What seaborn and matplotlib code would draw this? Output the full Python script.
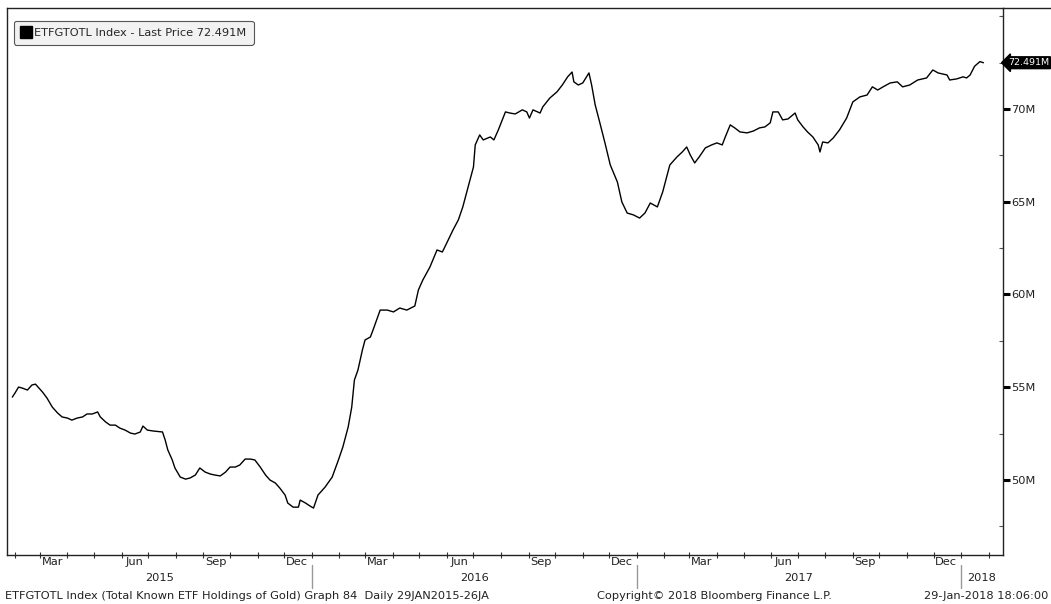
import pandas as pd
import matplotlib
matplotlib.use('Agg')
import matplotlib.pyplot as plt
import matplotlib.dates as mdates
from matplotlib.lines import Line2D
from matplotlib.ticker import FixedLocator, MultipleLocator, NullFormatter
from matplotlib.transforms import blended_transform_factory
import seaborn as sns

# days after 29-Jan-2015 and holdings in millions of oz
start = '2015-01-29'
days_since_start = [
    0, 3, 7, 11, 17, 22, 26, 29, 34, 39, 45, 51, 56, 62, 67, 73, 79, 84, 90, 96,
    99, 105, 110, 116, 121, 127, 133, 138, 144, 147, 152, 159, 169, 172, 175, 180,
    183, 189, 195, 200, 206, 211, 217, 223, 228, 234, 240, 245, 251, 256, 262, 268,
    273, 279, 285, 290, 296, 301, 307, 310, 316, 322, 324, 330, 335, 339, 344, 352,
    360, 367, 372, 378, 382, 385, 389, 394, 397, 403, 406, 414, 422, 429, 436, 444,
    453, 457, 462, 470, 478, 484, 489, 496, 502, 507, 513, 519, 521, 526, 530, 538,
    542, 547, 555, 560, 566, 574, 579, 582, 586, 594, 597, 605, 613, 619, 625, 630,
    632, 637, 642, 649, 652, 656, 661, 667, 673, 681, 686, 692, 699, 706, 712, 718,
    726, 732, 740, 748, 754, 759, 763, 768, 773, 780, 787, 793, 799, 802, 808, 813,
    819, 827, 834, 841, 847, 853, 856, 862, 867, 873, 881, 884, 890, 895, 901, 907,
    909, 912, 918, 924, 931, 939, 946, 954, 962, 968, 974, 980, 988, 996, 1002, 1010,
    1019, 1029, 1036, 1042, 1052, 1055, 1063, 1070, 1074, 1078, 1083, 1089, 1093,
]
holdings_m = [
    54.47, 54.69, 55.01, 54.96, 54.85, 55.12, 55.17, 55.01, 54.74, 54.42, 53.93, 53.61,
    53.40, 53.34, 53.23, 53.34, 53.40, 53.56, 53.56, 53.67, 53.40, 53.13, 52.96, 52.96,
    52.80, 52.69, 52.53, 52.48, 52.59, 52.91, 52.69, 52.64, 52.59, 52.16, 51.62, 51.08,
    50.65, 50.16, 50.05, 50.11, 50.27, 50.65, 50.43, 50.32, 50.27, 50.22, 50.43, 50.70,
    50.70, 50.81, 51.13, 51.13, 51.08, 50.70, 50.27, 50.00, 49.84, 49.57, 49.19, 48.76,
    48.54, 48.54, 48.92, 48.76, 48.60, 48.49, 49.19, 49.62, 50.16, 51.08, 51.78, 52.86,
    53.93, 55.39, 55.93, 57.01, 57.55, 57.71, 58.09, 59.16, 59.16, 59.06, 59.27, 59.16,
    59.38, 60.24, 60.78, 61.48, 62.40, 62.29, 62.78, 63.48, 64.02, 64.72, 65.80, 66.87,
    68.06, 68.60, 68.33, 68.49, 68.33, 68.87, 69.84, 69.78, 69.73, 69.95, 69.84, 69.51,
    69.95, 69.78, 70.11, 70.59, 70.92, 71.29, 71.73, 71.99, 71.46, 71.29, 71.40, 71.94,
    71.29, 70.22, 69.30, 68.17, 66.98, 66.06, 64.99, 64.39, 64.29, 64.12, 64.39, 64.93,
    64.72, 65.53, 66.98, 67.41, 67.68, 67.95, 67.52, 67.09, 67.41, 67.90, 68.06, 68.17,
    68.06, 68.44, 69.14, 68.98, 68.76, 68.71, 68.81, 68.98, 69.03, 69.25, 69.84, 69.84,
    69.41, 69.46, 69.78, 69.41, 69.03, 68.76, 68.49, 68.06, 67.68, 68.22, 68.17, 68.44,
    68.87, 69.51, 70.38, 70.65, 70.75, 71.19, 71.02, 71.19, 71.40, 71.46, 71.19, 71.29,
    71.56, 71.67, 72.10, 71.94, 71.83, 71.56, 71.62, 71.73, 71.67, 71.83, 72.30, 72.55,
    72.49,
]
last_price = 72.491
legend_label = 'ETFGTOTL Index - Last Price 72.491M'
y_ticks = [50, 55, 60, 65, 70]
years = [2015, 2016, 2017, 2018]
footer_left = 'ETFGTOTL Index (Total Known ETF Holdings of Gold) Graph 84  Daily 29JAN2015-26JA'
footer_mid = 'Copyright\u00a9 2018 Bloomberg Finance L.P.'
footer_right = '29-Jan-2018 18:06:00'

df = pd.DataFrame({
    'date': pd.Timestamp(start) + pd.to_timedelta(days_since_start, unit='D'),
    'value': holdings_m,
})

sns.set_style('white')
plt.rcParams['font.family'] = ['DejaVu Sans']
FS = 8.2
TXT = '#222222'

W, H = 1051, 604
fig = plt.figure(figsize=(W / 100, H / 100), dpi=100)
ax = fig.add_axes([7 / W, 1 - 555 / H, 996 / W, 547 / H])

sns.lineplot(data=df, x='date', y='value', color='black', lw=1.0, ax=ax, legend=False)
x0, x1 = pd.Timestamp('2015-01-23'), pd.Timestamp('2018-02-17')
ax.set_xlim(x0, x1)
ax.set_ylim(45.96, 75.44)
ax.set_xlabel('')
ax.set_ylabel('')

for s in ax.spines.values():
    s.set_color('#222222')
    s.set_linewidth(1.0)

# bottom axis: month ticks, quarter month names in the middle of the month
ax.xaxis.set_major_locator(mdates.MonthLocator())
ax.xaxis.set_major_formatter(NullFormatter())
ax.xaxis.set_minor_locator(mdates.MonthLocator(bymonth=[3, 6, 9, 12], bymonthday=15))
ax.xaxis.set_minor_formatter(mdates.DateFormatter('%b'))
ax.tick_params(axis='x', which='major', direction='inout', length=5, width=0.8,
               color='#333333', bottom=True)
ax.tick_params(axis='x', which='minor', length=0, pad=1.5, labelsize=FS,
               labelcolor=TXT, bottom=True)

# right axis
ax.yaxis.tick_right()
ax.yaxis.set_major_locator(FixedLocator(y_ticks))
ax.set_yticklabels([f'{v}M' for v in y_ticks])
ax.yaxis.set_minor_locator(MultipleLocator(2.5))
ax.tick_params(axis='y', which='major', direction='out', length=5, width=2.2,
               color='black', pad=1, labelsize=FS, labelcolor=TXT, right=True)
ax.tick_params(axis='y', which='minor', direction='in', length=3, width=0.8,
               color='#555555', right=True)

# last price tag
tag_tr = blended_transform_factory(ax.transAxes, ax.transData)
ax.annotate(f'{last_price}M', xy=(1, last_price), xycoords=tag_tr,
            xytext=(3.5, 0), textcoords='offset points', va='center', ha='left',
            fontsize=6.8, color='white', annotation_clip=False,
            bbox=dict(boxstyle='larrow,pad=0.15', fc='black', ec='black'))

# legend
handle = Line2D([], [], marker='s', ls='none', color='black', markersize=8)
leg = ax.legend([handle], [legend_label], loc='upper left',
                bbox_to_anchor=(14 / W, 1 - 21 / H), bbox_transform=fig.transFigure,
                fontsize=FS, frameon=True, fancybox=True, framealpha=1,
                facecolor='#f2f2f2', edgecolor='#555555', borderpad=0.6,
                handletextpad=0.3, handlelength=0.9, borderaxespad=0)
leg.get_frame().set_linewidth(0.8)

# years and year dividers under the month labels
yr_tr = blended_transform_factory(ax.transData, fig.transFigure)
for yr in years:
    a = max(pd.Timestamp(f'{yr}-01-01'), x0)
    b = min(pd.Timestamp(f'{yr + 1}-01-01'), x1)
    mid = mdates.date2num(a) + (mdates.date2num(b) - mdates.date2num(a)) / 2
    fig.text(mid, 1 - 578 / H, str(yr), transform=yr_tr, ha='center', va='center',
             fontsize=FS, color=TXT)
    if yr > years[0]:
        xd = mdates.date2num(pd.Timestamp(f'{yr}-01-01'))
        fig.add_artist(Line2D([xd, xd], [1 - 565 / H, 1 - 588 / H], transform=yr_tr,
                              color='#999999', lw=1.0))

# frame line running to the right edge
fig.add_artist(Line2D([1003 / W, 1], [1 - 8 / H, 1 - 8 / H], color='#222222', lw=1.0))

# footer
fy = 1 - 596 / H
fig.text(5 / W, fy, footer_left, ha='left', va='center', fontsize=FS, color=TXT)
fig.text(597 / W, fy, footer_mid, ha='left', va='center', fontsize=FS, color=TXT)
fig.text(1048 / W, fy, footer_right, ha='right', va='center', fontsize=FS, color=TXT)

fig.savefig('out.png', dpi=100)
